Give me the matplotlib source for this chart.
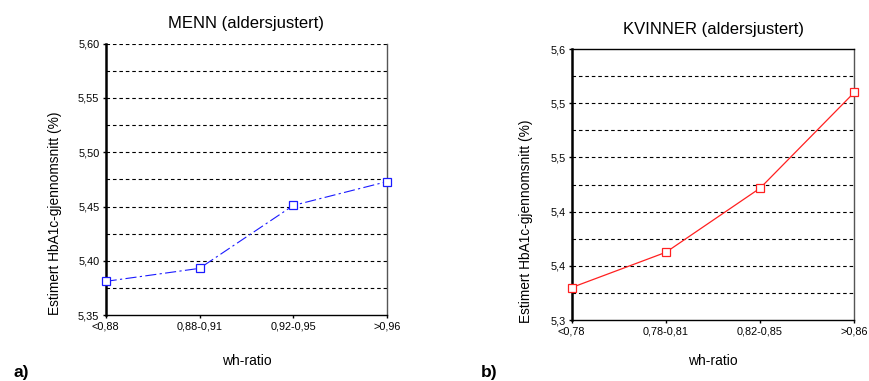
import matplotlib
matplotlib.use("Agg")
import matplotlib.pyplot as plt
import numpy as np

plt.rcParams["font.family"] = ["Liberation Sans", "DejaVu Sans"]

# Data
men_cats = ["<0,88", "0,88-0,91", "0,92-0,95", ">0,96"]
men_vals = [5.381, 5.393, 5.451, 5.473]
women_cats = ["<0,78", "0,78-0,81", "0,82-0,85", ">0,86"]
women_vals = [5.336, 5.375, 5.446, 5.552]

men_ticks = [5.35, 5.40, 5.45, 5.50, 5.55, 5.60]
women_ticks = [5.30, 5.36, 5.42, 5.48, 5.54, 5.60]

C_BLUE = "#1a1aff"
C_RED = "#ff2020"
GRID_DASH = (0, (3.2, 2.6))


def _style(ax, cats, ticks, ylab_xy, xlab_xy, top_spine):
    ax.set_xlim(0, len(cats) - 1)
    ax.set_ylim(ticks[0], ticks[-1])
    ax.set_xticks(np.arange(len(cats)))
    ax.set_xticklabels(cats, fontsize=7.8)
    ax.set_yticks(ticks)
    ax.tick_params(axis="both", direction="out", length=2.5, width=1.0,
                   labelsize=7.8, pad=2)
    ax.spines["left"].set_linewidth(1.8)
    ax.spines["bottom"].set_linewidth(1.0)
    ax.spines["right"].set_linewidth(1.0)
    ax.spines["right"].set_color("#555555")
    ax.spines["top"].set_visible(top_spine)
    ax.spines["top"].set_linewidth(1.0)
    ax.set_xlabel("wh-ratio", fontsize=10)
    ax.xaxis.set_label_coords(*xlab_xy)
    ax.set_ylabel("Estimert HbA1c-gjennomsnitt (%)", fontsize=9.9)
    ax.yaxis.set_label_coords(*ylab_xy)


fig = plt.figure(figsize=(8.69, 3.81), dpi=100)
ax1 = fig.add_axes([0.1216, 0.1732, 0.3240, 0.7120])
ax2 = fig.add_axes([0.6579, 0.1600, 0.3252, 0.7113])

# a) men
lo, hi = men_ticks[0], men_ticks[-1]
for g in np.linspace(lo, hi, 11)[1:]:
    ax1.axhline(g, color="black", lw=0.8, ls=GRID_DASH, zorder=1)
x1 = np.arange(len(men_cats))
ax1.plot(x1, men_vals, color=C_BLUE, lw=0.8, ls=(0, (10, 3, 2, 3)),
         marker="s", ms=5.5, mfc="white", mec=C_BLUE, mew=0.9,
         zorder=4, clip_on=False)
ax1.set_yticklabels([f"{t:.2f}".replace(".", ",") for t in men_ticks])
_style(ax1, men_cats, men_ticks, (-0.155, 0.376), (0.5, -0.145), False)
ax1.set_title("MENN (aldersjustert)", fontsize=12, pad=11)

# b) women
lo, hi = women_ticks[0], women_ticks[-1]
for g in np.linspace(lo, hi, 11)[1:-1]:
    ax2.axhline(g, color="black", lw=0.8, ls=GRID_DASH, zorder=1)
x2 = np.arange(len(women_cats))
ax2.plot(x2, women_vals, color=C_RED, lw=0.9, ls="-",
         marker="s", ms=5.5, mfc="white", mec=C_RED, mew=0.9,
         zorder=4, clip_on=False)
ax2.set_yticklabels([f"{t:.1f}".replace(".", ",") for t in women_ticks])
_style(ax2, women_cats, women_ticks, (-0.137, 0.365), (0.5, -0.127), True)
ax2.set_title("KVINNER (aldersjustert)", fontsize=12, pad=11)

fig.text(13 / 869, 1 - 372 / 381, "a)", fontsize=12.5, fontweight="bold",
         ha="left", va="center")
fig.text(481 / 869, 1 - 372 / 381, "b)", fontsize=12.5, fontweight="bold",
         ha="left", va="center")

fig.savefig("out.png", dpi=100)
